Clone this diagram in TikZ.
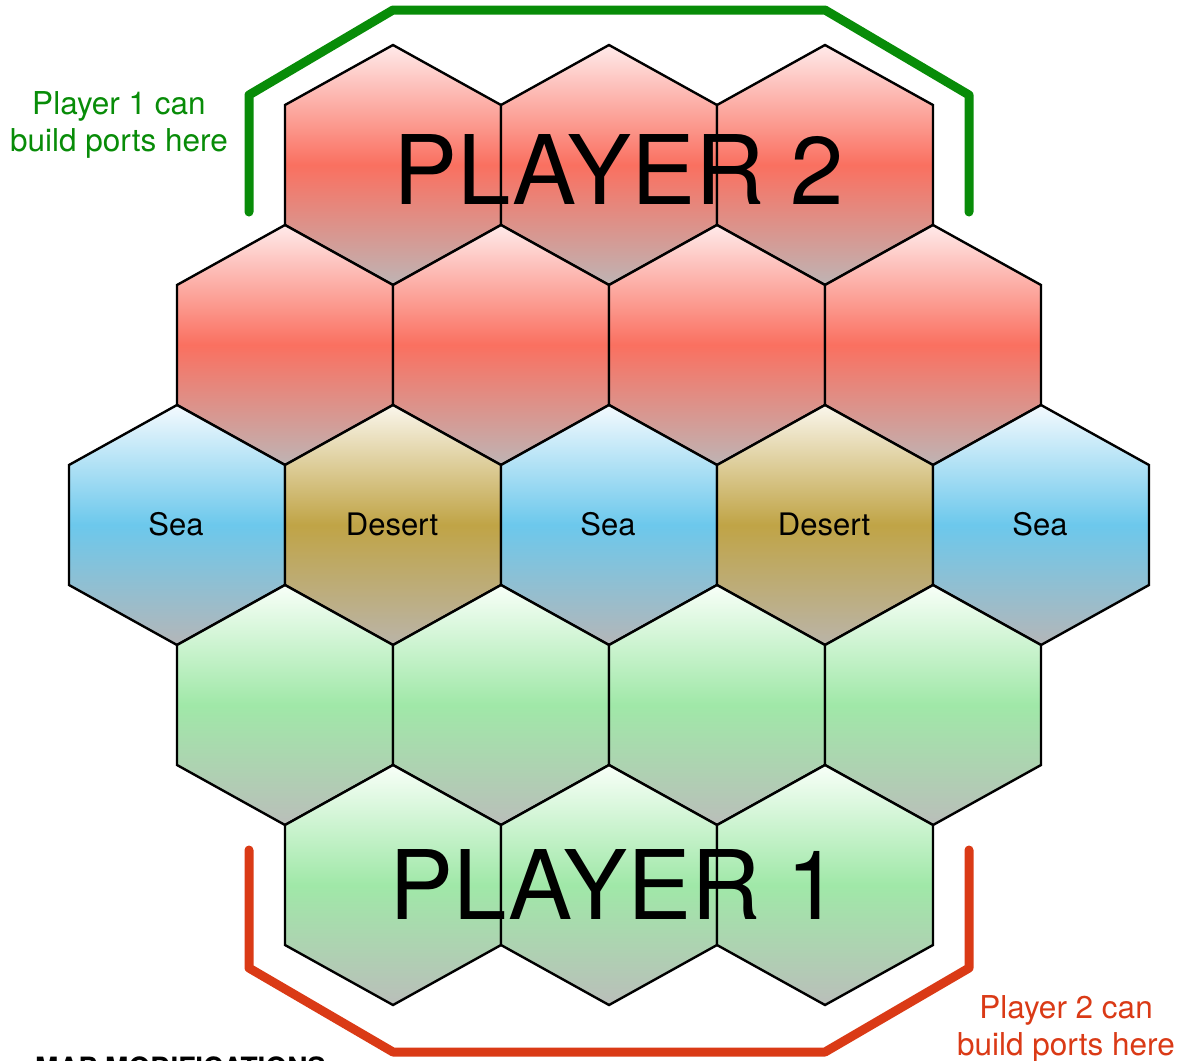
\documentclass[tikz,border=0pt]{standalone}
\usepackage{fontspec}
\setmainfont{TeX Gyre Heros}
\usepackage{tikz}
\usetikzlibrary{positioning}
\usepackage{xcolor}
\definecolor{hxredtop}{RGB}{255,234,234}
\definecolor{hxredmid}{RGB}{250,112,96}
\definecolor{hxredbot}{RGB}{190,180,180}
\definecolor{hxbluetop}{RGB}{244,250,254}
\definecolor{hxbluemid}{RGB}{108,200,236}
\definecolor{hxbluebot}{RGB}{180,182,184}
\definecolor{hxsandtop}{RGB}{250,246,236}
\definecolor{hxsandmid}{RGB}{192,164,70}
\definecolor{hxsandbot}{RGB}{186,180,168}
\definecolor{hxgreentop}{RGB}{248,255,248}
\definecolor{hxgreenmid}{RGB}{160,232,168}
\definecolor{hxgreenbot}{RGB}{186,190,186}
\definecolor{portgreen}{RGB}{8,140,8}
\definecolor{portred}{RGB}{218,58,22}
\tikzset{
    hexcell/.style={
        draw=black,line width=2.4pt,
        top color=#1top,bottom color=#1bot,middle color=#1mid
    },
    hexcell/.default=hxred,
    portline/.style={
        draw=#1,line width=9pt,line cap=round,line join=round
    },
    tilelabel/.style={
        font=\fontsize{31}{37}\selectfont,inner sep=0pt,anchor=base
    },
    ownerlabel/.style={
        font=\fontsize{96}{96}\selectfont,inner sep=0pt,anchor=base
    },
    portnote/.style={
        font=\fontsize{31.5}{37}\selectfont,text=#1,align=center,inner sep=0pt
    }
}
\newcommand{\drawhex}[3]{%
    \path[hexcell=#3] (#1,#2) ++(0,-120) -- ++(108,60) -- ++(0,120)
        -- ++(-108,60) -- ++(-108,-60) -- ++(0,-120) -- cycle;}

\begin{document}
\begin{tikzpicture}[x=1pt,y=-1pt]
\useasboundingbox (0,0) rectangle (1185,1060);

% board
\foreach \cx in {393,609,825} {\drawhex{\cx}{165}{hxred}}
\foreach \cx in {285,501,717,933} {\drawhex{\cx}{345}{hxred}}
\foreach \cx/\kind in {177/hxblue,393/hxsand,609/hxblue,825/hxsand,1041/hxblue}
    {\drawhex{\cx}{525}{\kind}}
\foreach \cx in {285,501,717,933} {\drawhex{\cx}{705}{hxgreen}}
\foreach \cx in {393,609,825} {\drawhex{\cx}{885}{hxgreen}}

% middle row
\node[tilelabel] (sea1) at (176,535) {Sea};
\node[tilelabel] (desert1) at (392,535) {Desert};
\node[tilelabel] (sea2) at (608,535) {Sea};
\node[tilelabel] (desert2) at (824,535) {Desert};
\node[tilelabel] (sea3) at (1040,535) {Sea};

\node[ownerlabel] (player2) at (619,204) {PLAYER 2};
\node[ownerlabel] (player1) at (615,919) {PLAYER 1};

% port coasts
\draw[portline=portgreen] (249,212) -- (249,95) -- (393,10) -- (825,10)
    -- (969,95) -- (969,212);
\draw[portline=portred] (249,850) -- (249,968) -- (393,1052) -- (825,1052)
    -- (969,968) -- (969,850);

\node[portnote=portgreen] (note1) at (119,125) {Player 1 can\\build ports here};
\node[portnote=portred] (note2) at (1066,1029) {Player 2 can\\build ports here};

\node[font=\fontsize{28}{32}\selectfont\bfseries,inner sep=0pt,anchor=base west]
    (nexttitle) at (35,1077) {MAP MODIFICATIONS};

\end{tikzpicture}
\end{document}
